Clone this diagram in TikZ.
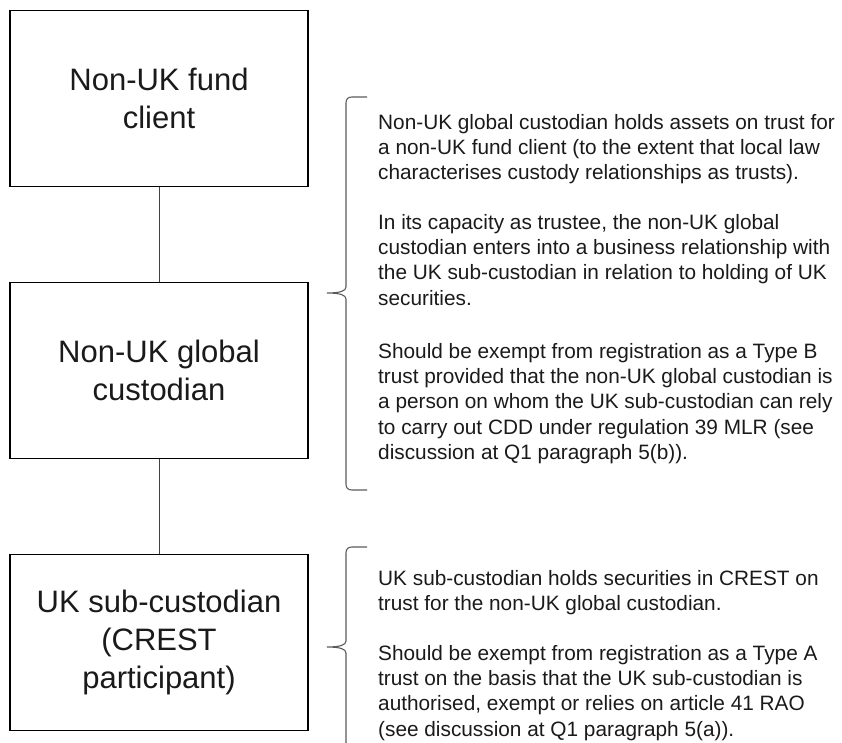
\documentclass[tikz,border=0pt]{standalone}
\usepackage{fontspec}
\setmainfont{Liberation Sans}
\definecolor{bracegray}{HTML}{5A5A5A}
\definecolor{linegray}{HTML}{404040}
\definecolor{txt}{HTML}{1A1A1A}
\begin{document}
\begin{tikzpicture}[x=1pt,y=-1pt,
  entity/.style={draw=black,line width=1.4pt,minimum width=298pt,minimum height=176pt,
    align=center,inner sep=0pt,text=txt,font={\fontsize{31}{38}\selectfont}},
  para/.style={anchor=north west,align=left,inner sep=0pt,text=txt,
    font={\fontsize{20.8}{25.3}\selectfont}},
  link/.style={draw=linegray,line width=0.9pt},
  bracepath/.style={draw=bracegray,line width=1.1pt}]
\useasboundingbox (0,0) rectangle (842,743);
\node[entity] (client) at (159,98.5) {Non-UK fund\\client};
\node[entity] (global) at (159,370.5) {Non-UK global\\custodian};
\node[entity] (sub) at (159,642.5) {UK sub-custodian\\(CREST\\participant)};
\draw[link] (client.south) -- (global.north);
\draw[link] (global.south) -- (sub.north);
% braces
\draw[bracepath] (367,97) -- (352,97) .. controls (348,97) and (346,99) .. (346,103)
  -- (346,287) .. controls (346,291) and (340,293) .. (327,293)
  .. controls (340,293) and (346,295) .. (346,299)
  -- (346,484) .. controls (346,488) and (348,490) .. (352,490) -- (367,490);
\draw[bracepath] (367,547) -- (352,547) .. controls (348,547) and (346,549) .. (346,553)
  -- (346,641) .. controls (346,645) and (340,647) .. (327,647)
  .. controls (340,647) and (346,649) .. (346,653) -- (346,745);
% texts
\node[para] (p1) at (378,111.3) {\strut Non-UK global custodian holds assets on trust for\\
a non-UK fund client (to the extent that local law\\
characterises custody relationships as trusts).};
\node[para] (p2) at (378,211.3) {\strut In its capacity as trustee, the non-UK global\\
custodian enters into a business relationship with\\
the UK sub-custodian in relation to holding of UK\\
securities.};
\node[para] (p3) at (378,340.3) {\strut Should be exempt from registration as a Type B\\
trust provided that the non-UK global custodian is\\
a person on whom the UK sub-custodian can rely\\
to carry out CDD under regulation 39 MLR (see\\
discussion at Q1 paragraph 5(b)).};
\node[para] (p4) at (378,567.3) {\strut UK sub-custodian holds securities in CREST on\\
trust for the non-UK global custodian.};
\node[para] (p5) at (378,642.3) {\strut Should be exempt from registration as a Type A\\
trust on the basis that the UK sub-custodian is\\
authorised, exempt or relies on article 41 RAO\\
(see discussion at Q1 paragraph 5(a)).};
\end{tikzpicture}
\end{document}
